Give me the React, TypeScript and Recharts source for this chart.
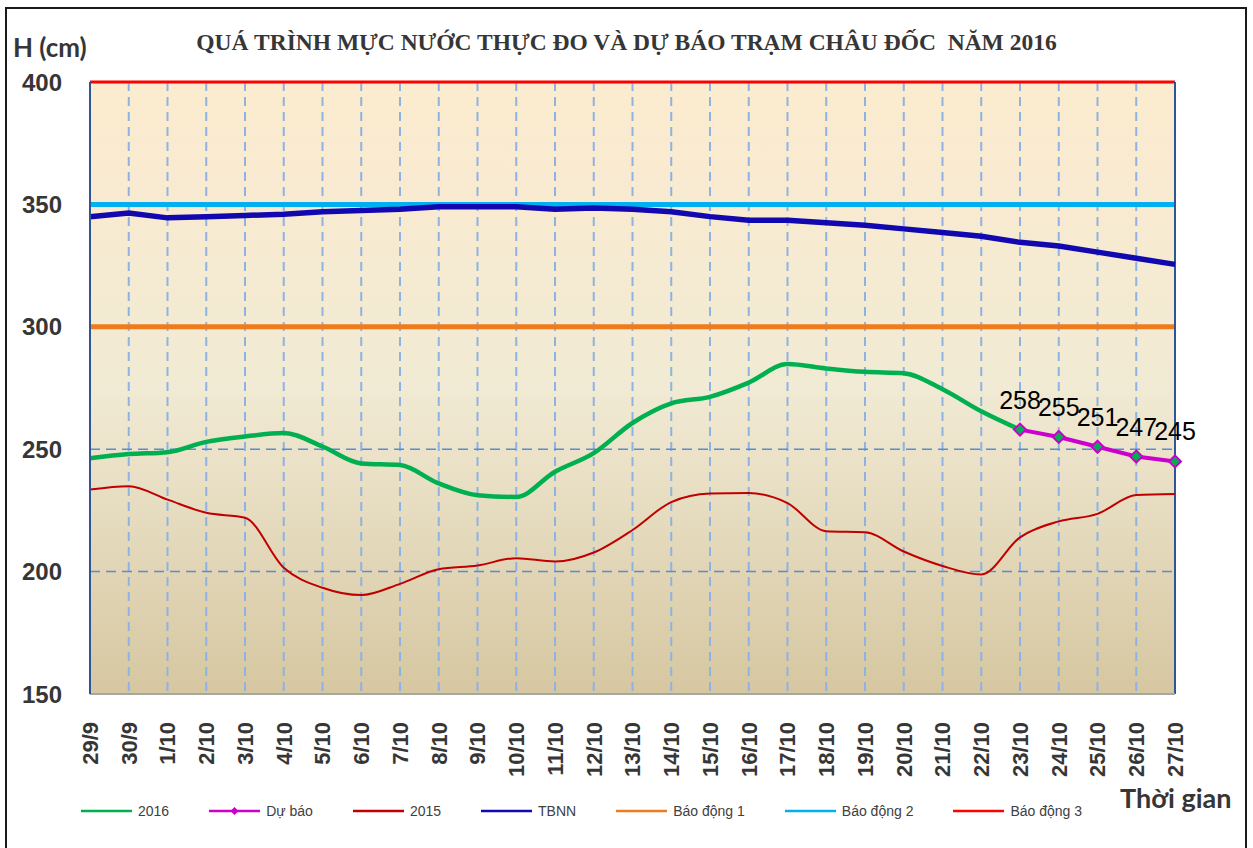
import { LineChart, Line, XAxis, YAxis, CartesianGrid, ReferenceLine, LabelList } from "recharts";

// Ngày quan trắc (29/9 -> 27/10)
const dates = [
  "29/9", "30/9", "1/10", "2/10", "3/10", "4/10", "5/10", "6/10", "7/10", "8/10",
  "9/10", "10/10", "11/10", "12/10", "13/10", "14/10", "15/10", "16/10", "17/10", "18/10",
  "19/10", "20/10", "21/10", "22/10", "23/10", "24/10", "25/10", "26/10", "27/10",
];

// Mực nước thực đo 2016 (đến 23/10)
const h2016 = [
  246.3, 248, 248.8, 253, 255.2, 256.6, 251.1, 244.2, 243.5, 236,
  231.2, 230.5, 240.8, 248.4, 260.7, 268.7, 271.4, 277.2, 284.8, 283,
  281.6, 281, 274.5, 265.5, 258,
];

// Dự báo 23/10 -> 27/10
const forecast = [258, 255, 251, 247, 245];

const h2015 = [
  233.5, 234.9, 229.4, 224, 222, 201.6, 193.4, 190.4, 195, 201,
  202.5, 205.5, 204.1, 207.8, 217, 228.4, 231.9, 232.1, 228, 216.5,
  216.1, 208.2, 202.3, 198.8, 214, 220.5, 223.6, 231.3, 231.7,
];

const tbnn = [
  345, 346.5, 344.5, 345, 345.5, 346, 347, 347.5, 348, 349,
  349, 349, 348, 348.5, 348, 347, 345, 343.5, 343.5, 342.5,
  341.5, 340, 338.5, 337, 334.5, 333, 330.5, 328, 325.5,
];

const yTicks = [150, 200, 250, 300, 350, 400];
const alarm1 = 300;
const alarm2 = 350;
const alarm3 = 400;

const C = {
  g2016: "#00B050",
  forecast: "#CC00CC",
  h2015: "#C00000",
  tbnn: "#1208B0",
  alarm1: "#F07B1C",
  alarm2: "#00B0F0",
  alarm3: "#FF0000",
  text: "#363636",
};

const startForecast = dates.length - forecast.length;
const data = dates.map((d, i) => ({
  date: d,
  h2016: i < h2016.length ? h2016[i] : null,
  forecast: i >= startForecast ? forecast[i - startForecast] : null,
  h2015: h2015[i],
  tbnn: tbnn[i],
}));

const legendItems = [
  { label: "2016", color: C.g2016 },
  { label: "Dự báo", color: C.forecast, marker: true },
  { label: "2015", color: C.h2015 },
  { label: "TBNN", color: C.tbnn },
  { label: "Báo động 1", color: C.alarm1 },
  { label: "Báo động 2", color: C.alarm2 },
  { label: "Báo động 3", color: C.alarm3 },
];

function Diamond({ cx, cy }: any) {
  if (cx == null || cy == null) return null;
  const r = 6;
  return (
    <path
      d={`M${cx},${cy - r}L${cx + r},${cy}L${cx},${cy + r}L${cx - r},${cy}Z`}
      fill={C.g2016}
      stroke={C.forecast}
      strokeWidth={2}
    />
  );
}

function DateTick({ x, y, payload }: any) {
  return (
    <text
      x={x}
      y={y}
      transform={`rotate(-90 ${x} ${y})`}
      textAnchor="end"
      dy="0.36em"
      fontSize={22}
      fontWeight={700}
      fontFamily="'Liberation Sans', Arial, sans-serif"
      fill={C.text}
    >
      {payload.value}
    </text>
  );
}

export default function App() {
  return (
    <div style={{ position: "absolute", left: 0, top: 0, width: 1253, height: 848, background: "#fff", overflow: "hidden" }}>
      {/* khung ngoài */}
      <div style={{ position: "absolute", left: 5, top: 7, width: 1242, height: 860, border: "2px solid #1a1a1a", boxSizing: "border-box" }} />

      <div
        style={{
          position: "absolute", left: 0, top: 30, width: 1253, textAlign: "center",
          fontFamily: "'Liberation Serif', 'Times New Roman', serif", fontWeight: 700,
          fontSize: 23.5, lineHeight: "24px", color: C.text,
        }}
      >
        QUÁ TRÌNH MỰC NƯỚC THỰC ĐO VÀ DỰ BÁO TRẠM CHÂU ĐỐC&nbsp; NĂM 2016
      </div>

      <div style={{ position: "absolute", left: 13, top: 34, fontFamily: "Lato, sans-serif", fontWeight: 700, fontSize: 26, lineHeight: "26px", color: C.text }}>
        H (cm)
      </div>

      <div style={{ position: "absolute", left: 1120, top: 784, fontFamily: "Lato, sans-serif", fontWeight: 700, fontSize: 27, lineHeight: "27px", color: C.text }}>
        Thời gian
      </div>

      <div style={{ position: "absolute", left: 0, top: 0 }}>
        <LineChart width={1253} height={848} data={data} margin={{ top: 82, right: 78, bottom: 94, left: 20 }}>
          <defs>
            <linearGradient id="bgGrad" x1="0" y1="0" x2="0" y2="1">
              <stop offset="0%" stopColor="#FCEBCF" />
              <stop offset="50%" stopColor="#F1EAD4" />
              <stop offset="100%" stopColor="#D6C7A1" />
            </linearGradient>
          </defs>
          <CartesianGrid horizontal={false} stroke="#8DB3E2" strokeWidth={2} strokeDasharray="9 6" fill="url(#bgGrad)" fillOpacity={1} />
          <CartesianGrid vertical={false} stroke="#5B8BD5" strokeWidth={1.5} strokeDasharray="10 6" />
          <XAxis
            dataKey="date"
            interval={0}
            tick={<DateTick />}
            tickLine={false}
            tickSize={0}
            tickMargin={28}
            height={60}
            axisLine={{ stroke: "#A6A6A6", strokeWidth: 2 }}
          />
          <YAxis
            domain={[150, 400]}
            ticks={yTicks}
            interval={0}
            width={70}
            tickLine={false}
            tickSize={0}
            tickMargin={28}
            axisLine={{ stroke: "#2F5597", strokeWidth: 2 }}
            tick={{ fontSize: 24, fontWeight: 700, fill: C.text, fontFamily: "'Liberation Sans', Arial, sans-serif" }}
          />
          <ReferenceLine y={alarm3} stroke={C.alarm3} strokeWidth={3} />
          <ReferenceLine y={alarm2} stroke={C.alarm2} strokeWidth={5} />
          <ReferenceLine y={alarm1} stroke={C.alarm1} strokeWidth={5} />
          <ReferenceLine x={dates[dates.length - 1]} stroke="#2F5597" strokeWidth={2} />
          <Line type="linear" dataKey="tbnn" stroke={C.tbnn} strokeWidth={5.5} dot={false} isAnimationActive={false} />
          <Line type="monotone" dataKey="h2015" stroke={C.h2015} strokeWidth={2} dot={false} isAnimationActive={false} />
          <Line type="monotone" dataKey="h2016" stroke={C.g2016} strokeWidth={4.5} dot={false} isAnimationActive={false} />
          <Line type="linear" dataKey="forecast" stroke={C.forecast} strokeWidth={4} dot={<Diamond />} isAnimationActive={false}>
            <LabelList
              dataKey="forecast"
              position="top"
              offset={21}
              fill="#000"
              fontSize={25}
              fontFamily="'Liberation Sans', Arial, sans-serif"
            />
          </Line>
        </LineChart>
      </div>

      {/* chú giải */}
      <div
        style={{
          position: "absolute", left: 81, top: 801, height: 20, display: "flex", alignItems: "center", gap: 40,
          fontFamily: "'Liberation Sans', Arial, sans-serif", fontSize: 14, color: "#404040",
        }}
      >
        {legendItems.map((it) => (
          <div key={it.label} style={{ display: "flex", alignItems: "center" }}>
            <svg width={51} height={12} style={{ marginRight: 6 }}>
              <line x1={0} y1={6} x2={51} y2={6} stroke={it.color} strokeWidth={2.5} />
              {it.marker && <path d="M25.5,2L29.5,6L25.5,10L21.5,6Z" fill={it.color} />}
            </svg>
            <span>{it.label}</span>
          </div>
        ))}
      </div>
    </div>
  );
}
